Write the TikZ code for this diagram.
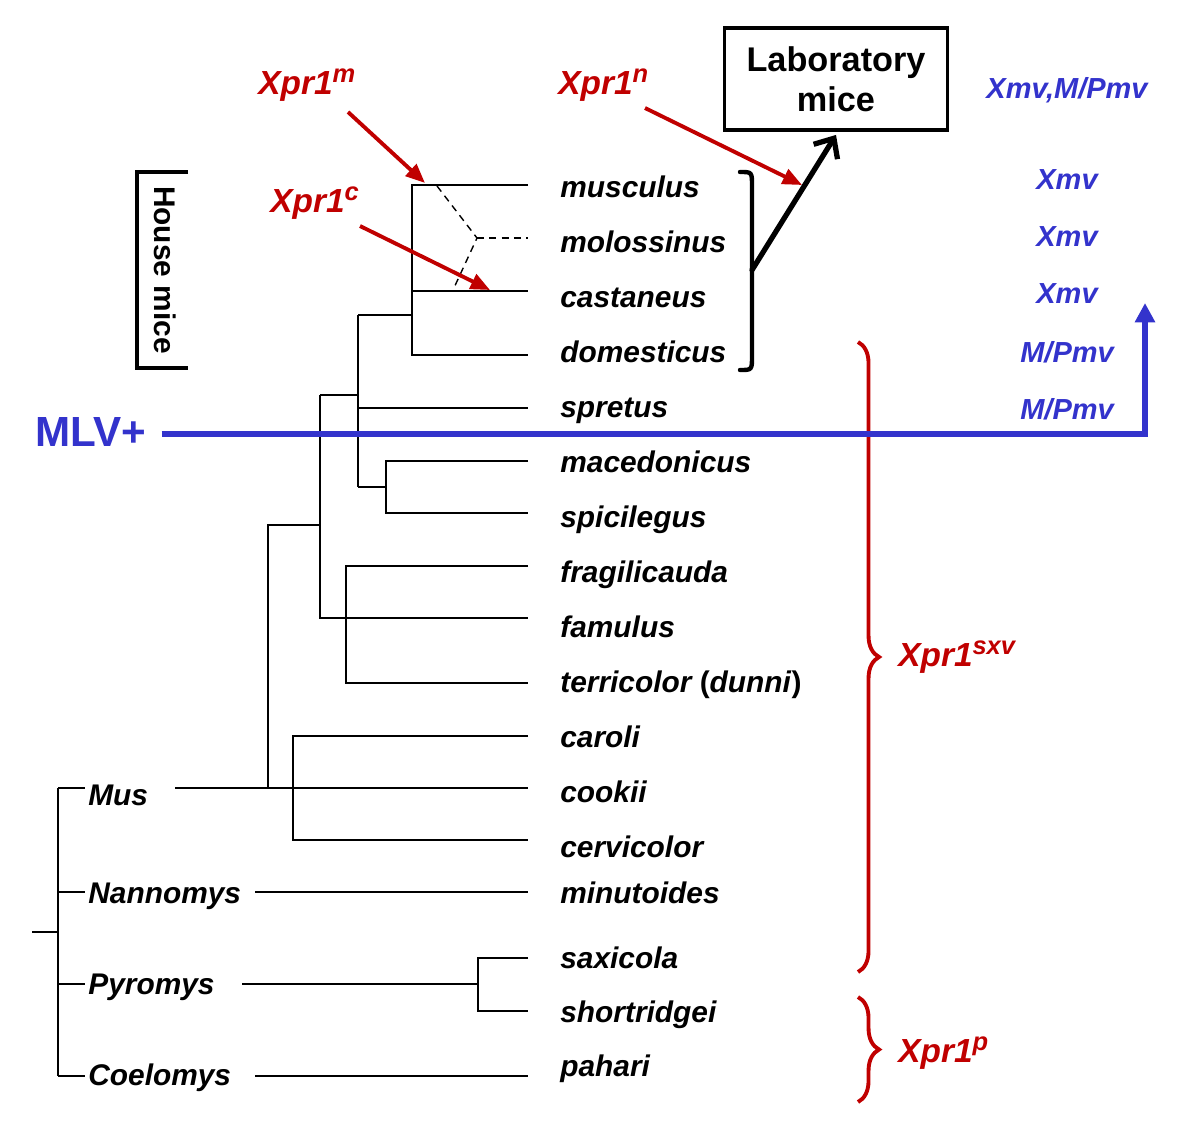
\documentclass[tikz,border=0pt]{standalone}
\usepackage{fontspec}
\setmainfont{Liberation Sans}
\usetikzlibrary{positioning, arrows.meta, decorations.pathreplacing}

\definecolor{xred}{RGB}{192,0,0}
\definecolor{xblue}{RGB}{51,51,204}
\newcommand{\allelesup}[1]{\raisebox{0.36em}{\fontsize{14.5}{16}\selectfont #1}}

\begin{document}
\begin{tikzpicture}[x=0.02cm, y=-0.02cm,
    % Styles
    species/.style={anchor=base west, inner sep=0pt, font=\fontsize{17}{20}\selectfont\bfseries\itshape},
    genus/.style={anchor=base west, inner sep=0pt, font=\fontsize{17}{20}\selectfont\bfseries\itshape},
    allele/.style={anchor=west, inner sep=0pt, text=xred, font=\fontsize{19}{22}\selectfont\bfseries\itshape},
    virus/.style={inner sep=0pt, text=xblue, font=\fontsize{16.5}{20}\selectfont\bfseries\itshape},
    branch/.style={line width=0.9pt},
    hybrid/.style={line width=0.8pt, dashed, dash pattern=on 4pt off 3pt},
    redarrow/.style={-{Triangle[length=11pt,width=9pt]}, xred, line width=2.2pt},
    labarrow/.style={-{Straight Barb[length=9pt,width=16pt]}, line width=3pt, line cap=round},
    redbrace/.style={xred, line width=2.2pt, decorate, decoration={brace, amplitude=12pt}},
]
\useasboundingbox (0,0) rectangle (1200,1139);

% Genus level
\coordinate (root) at (32,932);
\draw[branch] (root) -- (58,932);
\draw[branch] (58,788) -- (58,1076);
\draw[branch] (58,788) -- (85,788);
\draw[branch] (58,892) -- (85,892);
\draw[branch] (58,984) -- (85,984);
\draw[branch] (58,1076) -- (85,1076);
\node[genus] (mus) at (88,805) {Mus};
\node[genus] (nannomys) at (88,903) {Nannomys};
\node[genus] (pyromys) at (88,994) {Pyromys};
\node[genus] (coelomys) at (88,1085) {Coelomys};

% Species labels
\node[species] (musculus) at (560,197) {musculus};
\node[species] (molossinus) at (560,252) {molossinus};
\node[species] (castaneus) at (560,307) {castaneus};
\node[species] (domesticus) at (560,362) {domesticus};
\node[species] (spretus) at (560,417) {spretus};
\node[species] (macedonicus) at (560,472) {macedonicus};
\node[species] (spicilegus) at (560,527) {spicilegus};
\node[species] (fragilicauda) at (560,582) {fragilicauda};
\node[species] (famulus) at (560,637) {famulus};
\node[species] (terricolor) at (560,692) {terricolor \upshape(\itshape dunni\/\upshape)};
\node[species] (caroli) at (560,747) {caroli};
\node[species] (cookii) at (560,802) {cookii};
\node[species] (cervicolor) at (560,857) {cervicolor};
\node[species] (minutoides) at (560,903) {minutoides};
\node[species] (saxicola) at (560,968) {saxicola};
\node[species] (shortridgei) at (560,1022) {shortridgei};
\node[species] (pahari) at (560,1076) {pahari};

% Leaf ends
\coordinate (l-musculus) at (528,185);
\coordinate (l-molossinus) at (528,238);
\coordinate (l-castaneus) at (528,291);
\coordinate (l-domesticus) at (528,355);
\coordinate (l-spretus) at (528,408);
\coordinate (l-macedonicus) at (528,461);
\coordinate (l-spicilegus) at (528,513);
\coordinate (l-fragilicauda) at (528,566);
\coordinate (l-famulus) at (528,618);
\coordinate (l-terricolor) at (528,683);
\coordinate (l-caroli) at (528,736);
\coordinate (l-cookii) at (528,788);
\coordinate (l-cervicolor) at (528,840);
\coordinate (l-minutoides) at (528,892);
\coordinate (l-saxicola) at (528,958);
\coordinate (l-shortridgei) at (528,1011);
\coordinate (l-pahari) at (528,1076);

% Mus tree
\draw[branch] (175,788) -- (l-cookii);
\draw[branch] (268,788) |- (320,525);
\draw[branch] (l-caroli) -| (293,736) |- (l-cervicolor);
\draw[branch] (320,395) |- (l-famulus);
\draw[branch] (l-fragilicauda) -| (346,566) |- (l-terricolor);
\draw[branch] (320,395) -- (358,395);
\draw[branch] (358,315) -- (358,487);
\draw[branch] (358,408) -- (l-spretus);
\draw[branch] (358,487) -- (386,487);
\draw[branch] (l-macedonicus) -| (386,461) |- (l-spicilegus);
\draw[branch] (358,315) -- (412,315);
\draw[branch] (l-musculus) -| (412,185) |- (l-domesticus);
\draw[branch] (412,291) -- (l-castaneus);

% Hybrid origin of molossinus
\coordinate (hyb) at (477,238);
\draw[hybrid] (437,186) -- (hyb) -- (453,290);
\draw[hybrid] (hyb) -- (l-molossinus);

% Nannomys, Pyromys, Coelomys
\draw[branch] (255,892) -- (l-minutoides);
\draw[branch] (242,984) -- (478,984);
\draw[branch] (l-saxicola) -| (478,958) |- (l-shortridgei);
\draw[branch] (255,1076) -- (l-pahari);

% House mice bracket
\draw[line width=2.2pt] (188,172) -- (137,172) -- (137,368) -- (188,368);
\node[rotate=-90, font=\fontsize{17}{20}\selectfont\bfseries] (housemice) at (165,270) {House mice};

% Laboratory mice
\node[draw, line width=2.2pt, minimum width=4.46cm, minimum height=2.04cm, align=center,
      font=\fontsize{19.5}{23}\selectfont\bfseries] (lab) at (836,79) {Laboratory\\mice};
\draw[line width=2.5pt, line cap=round] (740,172) .. controls (752,172) .. (752,186) -- (752,356) .. controls (752,370) .. (740,370);
\coordinate (labfoot) at (752,270);
\draw[labarrow] (labfoot) -- ([yshift=-0.06cm]lab.south);

% Xpr1 alleles
\node[allele] (xm) at (258,85) {Xpr1\allelesup{m}};
\node[allele] (xn) at (558,85) {Xpr1\allelesup{n}};
\node[allele] (xc) at (270,203) {Xpr1\allelesup{c}};
\coordinate (xm-tail) at (348,112);
\coordinate (xm-head) at (425,183);
\coordinate (xn-tail) at (645,108);
\coordinate (xn-head) at (802,185);
\coordinate (xc-tail) at (360,226);
\coordinate (xc-head) at (490,290);
\draw[redarrow] (xm-tail) -- (xm-head);
\draw[redarrow] (xn-tail) -- (xn-head);
\draw[redarrow] (xc-tail) -- (xc-head);

% Braces
\coordinate (sxv-top) at (858,342);
\coordinate (sxv-bot) at (858,972);
\draw[redbrace] (sxv-top) -- (sxv-bot);
\node[allele] (xsxv) at (898,657) {Xpr1\allelesup{sxv}};
\coordinate (p-top) at (858,997);
\coordinate (p-bot) at (858,1102);
\draw[redbrace] (p-top) -- (p-bot);
\node[allele] (xp) at (898,1053) {Xpr1\allelesup{p}};

% MLV viruses
\node[text=xblue, inner sep=0pt, font=\fontsize{24}{28}\selectfont\bfseries] (mlv) at (91,432) {MLV+};
\coordinate (mlv-end) at (1145,434);
\coordinate (mlv-top) at (1145,303);
\draw[xblue, line width=3.4pt, -{Triangle[length=11pt,width=11pt]}] (mlv.east) ++(15,2) -- (mlv-end) -- (mlv-top);
\node[virus] (v1) at (1067,90) {Xmv,M/Pmv};
\node[virus] (v2) at (1067,180) {Xmv};
\node[virus] (v3) at (1067,237) {Xmv};
\node[virus] (v4) at (1067,294) {Xmv};
\node[virus] (v5) at (1067,352) {M/Pmv};
\node[virus] (v6) at (1067,409) {M/Pmv};

\end{tikzpicture}
\end{document}
